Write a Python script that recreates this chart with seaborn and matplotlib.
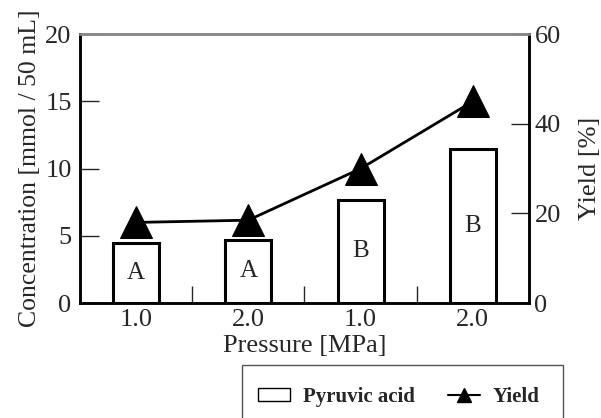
import seaborn as sns
import matplotlib.pyplot as plt
import matplotlib.lines as mlines
import matplotlib.patches as mpatches
import pandas as pd

# data
groups = ['g1', 'g2', 'g3', 'g4']
pressure_labels = ['1.0', '2.0', '1.0', '2.0']
pyruvic = [4.5, 4.7, 7.7, 11.5]
yield_pct = [18, 18.5, 30, 45]
letters = ['A', 'A', 'B', 'B']

df = pd.DataFrame({'group': groups, 'conc': pyruvic, 'yield': yield_pct})

sns.set_style('ticks')
plt.rcParams['font.family'] = ['Liberation Serif', 'DejaVu Serif']
plt.rcParams['font.size'] = 19

fig = plt.figure(figsize=(6.01, 4.18), dpi=100)
ax = fig.add_axes([0.133, 0.275, 0.747, 0.643])

sns.barplot(data=df, x='group', y='conc', ax=ax, color='white',
            edgecolor='black', linewidth=2.2, width=0.41, saturation=1)
for i, (h, t) in enumerate(zip(pyruvic, letters)):
    ax.text(i, h / 2, t, ha='center', va='center', fontsize=18)

ax.set_ylim(0, 20)
ax.set_yticks([0, 5, 10, 15, 20])
ax.set_xlim(-0.5, 3.5)
ax.set_xticks(range(4))
ax.set_xticklabels(pressure_labels)
ax.set_xticks([0.5, 1.5, 2.5], minor=True)
ax.tick_params(axis='x', which='major', length=0, pad=4, labelsize=19)
ax.tick_params(axis='x', which='minor', direction='in', length=12, width=1)
ax.tick_params(axis='y', direction='in', length=14, width=1, labelsize=19, pad=6)
ax.set_xlabel('Pressure [MPa]', fontsize=19, labelpad=3)
ax.set_ylabel('Concentration [mmol / 50 mL]', fontsize=18.5, labelpad=3)

ax2 = ax.twinx()
sns.lineplot(data=df, x='group', y='yield', ax=ax2, color='black',
             linewidth=2, marker='^', markersize=23, markeredgecolor='black')
ax2.set_ylim(0, 60)
ax2.set_yticks([0, 20, 40, 60])
ax2.tick_params(axis='y', direction='in', length=13, width=1, labelsize=19, pad=4)
ax2.set_ylabel('Yield [%]', fontsize=19, labelpad=13)
ax2.set_xlim(-0.5, 3.5)

for a in (ax, ax2):
    for s in a.spines.values():
        s.set_linewidth(1.8)
        s.set_color('black')
    a.spines['top'].set_color('#888888')

# legend frame runs off the bottom edge like in the reference
fig.patches.append(mpatches.Rectangle((0.403, -0.1), 0.534, 0.227,
                                      transform=fig.transFigure, fill=False,
                                      edgecolor='#555555', linewidth=1))
h1 = mpatches.Patch(facecolor='white', edgecolor='black', linewidth=1)
h2 = mlines.Line2D([], [], color='black', marker='^', markersize=10, linewidth=1.5)
fig.legend([h1, h2], ['Pyruvic acid', 'Yield'], loc='center left',
           bbox_to_anchor=(0.429, 0.05), ncol=2, frameon=False,
           borderpad=0, borderaxespad=0, columnspacing=1.6,
           handlelength=1.55, handleheight=0.6, handletextpad=0.6,
           prop={'weight': 'bold', 'size': 15})

fig.savefig('out.png', dpi=100)
